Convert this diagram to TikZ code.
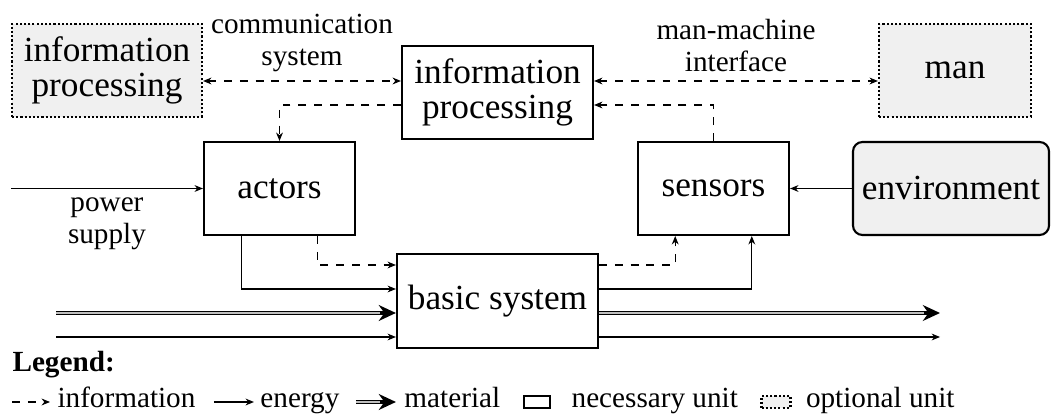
\documentclass[tikz,border=0pt]{standalone}
\usepackage{fontspec}
\setmainfont{Liberation Serif}
\usetikzlibrary{arrows.meta,calc}
\definecolor{optfill}{HTML}{F0F0F0}
\begin{document}
\begin{tikzpicture}[x=0.38pt,y=-0.38pt,
  >={Stealth[length=3.2pt,width=2.6pt]},
  box/.style={draw, thick, fill=white, minimum height=35.34pt, inner sep=0pt,
    align=center, font=\fontsize{13.4}{13.6}\selectfont},
  optbox/.style={box, fill=optfill, dash pattern=on 0.8pt off 0.8pt},
  envbox/.style={box, fill=optfill, rounded corners=3.6pt},
  lab/.style={align=center, font=\fontsize{11.1}{12}\selectfont},
  info/.style={draw, dashed, line width=0.4pt},
  energy/.style={draw, line width=0.4pt},
  material/.style={draw=black, line width=1.5pt, -{Stealth[length=6.5pt,width=6pt]}},
  matcore/.style={draw=white!75!black, line width=0.55pt, shorten >=6pt},
  legtext/.style={anchor=base west, inner sep=0pt, font=\fontsize{11.1}{12}\selectfont},
]
\useasboundingbox (0,0) rectangle (1052,414);

% units
\node[optbox, minimum width=72.2pt] (lip) at (107,70.5) {information\\processing};
\node[box, minimum width=72.6pt] (ip) at (497.5,92.5) {information\\processing};
\node[optbox, minimum width=57.8pt] (man) at (955,70.5) {man};
\node[box, minimum width=57.4pt] (act) at (279.5,188.5) {actors};
\node[box, minimum width=57.4pt] (sen) at (713.5,188.5) {sensors};
\node[envbox, minimum width=74.5pt] (env) at (951,188.5) {environment};
\node[box, minimum width=76.4pt, minimum height=35.7pt] (bas) at (497.5,301) {basic system};

% helper heights
\coordinate (ya) at (0,81);
\coordinate (yb) at (0,105);
\coordinate (y1) at (0,265);
\coordinate (y2) at (0,289);

% information links
\draw[info,<->] (lip.east |- ya) -- node[lab, above]{communication\\system} (ip.west |- ya);
\draw[info,<->] (ip.east |- ya) -- node[lab, above]{man-machine\\interface} (man.west |- ya);
\draw[info,->] (ip.west |- yb) -| (act.north);
\draw[info,->] (sen.north) |- (ip.east |- yb);

% energy inputs
\coordinate (ps) at (11,188.5);
\draw[energy,->] (ps) -- node[lab, below]{power\\supply} (act.west);
\draw[energy,->] (env.west) -- (sen.east);

% actors -> basic system
\draw[energy,->] ($(act.south west)!0.25!(act.south east)$) |- (bas.west |- y2);
\draw[info,->] ($(act.south west)!0.75!(act.south east)$) |- (bas.west |- y1);
% basic system -> sensors
\draw[info,->] (bas.east |- y1) -| ($(sen.south west)!0.25!(sen.south east)$);
\draw[energy,->] (bas.east |- y2) -| ($(sen.south west)!0.75!(sen.south east)$);

% material and energy through basic system
\coordinate (mi) at (56,313);
\coordinate (mo) at (940,313);
\coordinate (ei) at (56,337);
\coordinate (eo) at (940,337);
\draw[material] (mi) -- (bas.west |- mi);
\draw[matcore] (mi) -- (bas.west |- mi);
\draw[material] (bas.east |- mo) -- (mo);
\draw[matcore] (bas.east |- mo) -- (mo);
\draw[energy,->] (ei) -- (bas.west |- ei);
\draw[energy,->] (bas.east |- eo) -- (eo);

% legend
\node[anchor=base west, inner sep=0pt, font=\fontsize{11.1}{12}\selectfont\bfseries] (leg) at (12,372) {Legend:};
\coordinate (l1s) at (12,402);
\draw[info,->] (l1s) -- ++(38,0) coordinate (l1e);
\node[legtext] (l1t) at ($(l1e)+(7,6)$) {information};
\coordinate (l2s) at ($(l1t.base east)+(18,-6)$);
\draw[energy,->] (l2s) -- ++(40,0) coordinate (l2e);
\node[legtext] (l2t) at ($(l2e)+(6,6)$) {energy};
\coordinate (l3s) at ($(l2t.base east)+(16,-6)$);
\coordinate (l3e) at ($(l3s)+(40,0)$);
\draw[material] (l3s) -- (l3e);
\draw[matcore] (l3s) -- (l3e);
\node[legtext] (l3t) at ($(l3e)+(8,6)$) {material};
\node[draw, thick, minimum width=10pt, minimum height=4.5pt, inner sep=0pt, anchor=west] (l4b) at ($(l3t.base east)+(22,-6)$) {};
\node[legtext] (l4t) at ($(l4b.east)+(20,6)$) {necessary unit};
\node[draw, thick, fill=optfill, dash pattern=on 0.8pt off 0.8pt, minimum width=11pt, minimum height=4.5pt, inner sep=0pt, anchor=west] (l5b) at ($(l4t.base east)+(22,-6)$) {};
\node[legtext] (l5t) at ($(l5b.east)+(14,6)$) {optional unit};
\end{tikzpicture}
\end{document}
